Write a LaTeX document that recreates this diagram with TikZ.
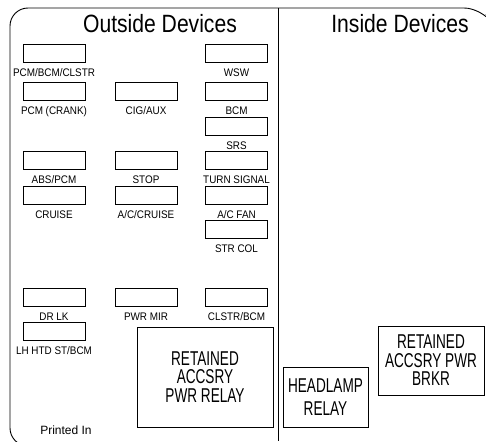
\documentclass[tikz,border=0pt]{standalone}
\usepackage{fontspec}
\setmainfont{Liberation Sans}
\newfontfamily\labelfam[FakeStretch=0.9]{Liberation Sans}
\newfontfamily\relayfam[FakeStretch=0.68]{Liberation Sans}
\newfontfamily\titlefam[FakeStretch=0.845]{Liberation Sans}
\begin{document}
\begin{tikzpicture}[x=1pt, y=-1pt, line width=0.9pt,
    fuse/.style={draw, minimum width=62pt, minimum height=18pt, inner sep=0pt},
    fuselabel/.style={font=\labelfam\fontsize{11}{12}\selectfont, inner sep=0pt, anchor=base},
    relay/.style={draw, align=center, inner sep=0pt, font=\relayfam\fontsize{20}{18.5}\selectfont},
    title/.style={font=\titlefam\fontsize{25}{27}\selectfont, inner sep=0pt, anchor=base}]
    \clip (0,0) rectangle (486,441);

    % frame
    \draw[rounded corners=18pt] (486,14) -- (482,8) -- (10,8) -- (10,446) -- (60,446);
    \draw (278,8) -- (278,441);

    % titles
    \node[title] (outside) at (160,33) {Outside Devices};
    \node[title] (inside) at (400,33) {Inside Devices};

    % fuses
    \foreach \x/\y/\txt [count=\i] in {
        54/53.5/{PCM/BCM/CLSTR}, 54/91/{PCM (CRANK)}, 54/160/{ABS/PCM},
        54/195.5/{CRUISE}, 54/297/{DR LK}, 54/331/{LH HTD ST/BCM},
        146/91/{CIG/AUX}, 146/160/{STOP}, 146/195.5/{A/C/CRUISE}, 146/297/{PWR MIR},
        236.5/53.5/{WSW}, 236.5/91/{BCM}, 236.5/126/{SRS}, 236.5/160/{TURN SIGNAL},
        236.5/195.5/{A/C FAN}, 236.5/229/{STR COL}, 236.5/297/{CLSTR/BCM}} {
        \node[fuse] (fuse\i) at (\x,\y) {};
        \node[fuselabel] (fuselabel\i) at ([yshift=-14pt]fuse\i.south) {\txt};
    }

    % relays
    \node[relay, minimum width=136pt, minimum height=100pt] (accrelay) at (205,377)
        {RETAINED\\ACCSRY\\PWR RELAY};
    \node[relay, minimum width=85pt, minimum height=60pt] (headlamp) at (325.5,397)
        {HEADLAMP\\[4.5pt]RELAY};
    \node[relay, minimum width=106pt, minimum height=69pt] (accbrkr) at (431,360.5)
        {RETAINED\\ACCSRY PWR\\BRKR};

    \node[font=\fontsize{12}{14}\selectfont, inner sep=0pt, anchor=base] (printed) at (66,434) {Printed In};
\end{tikzpicture}
\end{document}
